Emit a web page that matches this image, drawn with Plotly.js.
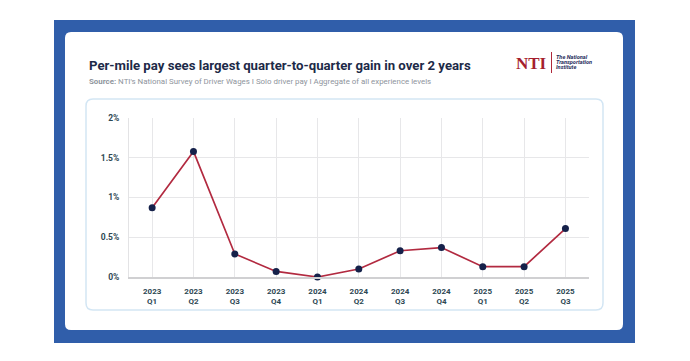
<!DOCTYPE html>
<html>
<head>
<meta charset="utf-8">
<script src="https://cdn.plot.ly/plotly-3.0.1.min.js"></script>
<style>
html,body{margin:0;padding:0;background:#ffffff;}
#chart{width:690px;height:361px;}
</style>
</head>
<body>
<div id="chart"></div>
<script>
// ---- data ----
const years = ["2023","2023","2023","2023","2024","2024","2024","2024","2025","2025","2025"];
const quarters = ["Q1","Q2","Q3","Q4","Q1","Q2","Q3","Q4","Q1","Q2","Q3"];
const categories = years.map((y, i) => y + "<br>" + quarters[i]);
const payChange = [0.87, 1.58, 0.29, 0.07, 0.00, 0.10, 0.33, 0.37, 0.13, 0.13, 0.61];
const yTickValues = [0, 0.5, 1, 1.5, 2];
const yTickLabels = ["0%", "0.5%", "1%", "1.5%", "2%"];

const titleText = "Per-mile pay sees largest quarter-to-quarter gain in over 2 years";
const sourceText = "<b>Source:</b> NTI's National Survey of Driver Wages I Solo driver pay I Aggregate of all experience levels";
const logoText = "NTI";
const logoLines = ["The National", "Transportation", "Institute"];

// ---- layout helpers (pixel -> paper) ----
const PL = 129, PR = 589, PT = 118, PB = 277;
const W = PR - PL, H = PB - PT;
const X = px => (px - PL) / W;
const Y = py => (PB - py) / H;

function roundRect(x0, y0, x1, y1, r) {
  const a = X(x0), b = X(x1), c = Y(y0), d = Y(y1);
  const rx = r / W, ry = r / H;
  return `M ${a + rx} ${c} L ${b - rx} ${c} Q ${b} ${c} ${b} ${c - ry} ` +
         `L ${b} ${d + ry} Q ${b} ${d} ${b - rx} ${d} L ${a + rx} ${d} ` +
         `Q ${a} ${d} ${a} ${d + ry} L ${a} ${c - ry} Q ${a} ${c} ${a + rx} ${c} Z`;
}

const shapes = [
  {type: "rect", xref: "paper", yref: "paper", layer: "below",
   x0: X(54), x1: X(635), y0: Y(343), y1: Y(20),
   fillcolor: "#305eaa", line: {width: 0}},
  {type: "path", xref: "paper", yref: "paper", layer: "below",
   path: roundRect(65, 32, 623, 330, 6), fillcolor: "#ffffff", line: {width: 0}},
  {type: "path", xref: "paper", yref: "paper", layer: "below",
   path: roundRect(86, 99, 603, 310, 7), fillcolor: "#ffffff",
   line: {color: "#d3e6f4", width: 1.5}},
  {type: "line", xref: "paper", yref: "paper",
   x0: X(551.5), x1: X(551.5), y0: Y(52), y1: Y(73),
   line: {color: "#b0283a", width: 1}}
];

const annotations = [
  {xref: "paper", yref: "paper", x: X(87), y: Y(65), xanchor: "left", yanchor: "middle",
   text: titleText, showarrow: false,
   font: {family: "Roboto, sans-serif", size: 13.2, color: "#1d2a48", weight: 700}},
  {xref: "paper", yref: "paper", x: X(87), y: Y(81.5), xanchor: "left", yanchor: "middle",
   text: sourceText, showarrow: false,
   font: {family: "Roboto, sans-serif", size: 7.9, color: "#8e949c"}},
  {xref: "paper", yref: "paper", x: X(549), y: Y(63.5), xanchor: "right", yanchor: "middle",
   text: "<b>" + logoText + "</b>", showarrow: false,
   font: {family: "Liberation Serif, serif", size: 17, color: "#a51f2f"}}
];
logoLines.forEach((t, i) => {
  annotations.push({xref: "paper", yref: "paper", x: X(553.5), y: Y(56.7 + 5 * i),
    xanchor: "left", yanchor: "middle", text: "<b><i>" + t + "</i></b>", showarrow: false,
    font: {family: "Roboto, sans-serif", size: 5.6, color: "#1f2d5c"}});
});

const trace = {
  type: "scatter", mode: "lines+markers",
  x: categories, y: payChange, cliponaxis: false,
  line: {color: "#b22a40", width: 1.7},
  marker: {color: "#15214a", size: 7},
  hoverinfo: "skip"
};

const layout = {
  width: 690, height: 361,
  margin: {l: PL, r: 690 - PR, t: PT, b: 361 - PB, pad: 0},
  paper_bgcolor: "#ffffff", plot_bgcolor: "rgba(0,0,0,0)",
  showlegend: false,
  xaxis: {
    type: "category", range: [-0.56, 10.57], fixedrange: true,
    showgrid: true, gridcolor: "#e7e7e9", gridwidth: 1,
    showline: true, linecolor: "#d0d0d2", linewidth: 2,
    ticks: "outside", ticklen: 5, tickcolor: "rgba(0,0,0,0)",
    tickfont: {family: "Roboto, sans-serif", size: 8, color: "#2d4753", weight: 700},
    zeroline: false
  },
  yaxis: {
    range: [0, 2], fixedrange: true,
    tickmode: "array", tickvals: yTickValues, ticktext: yTickLabels,
    showgrid: true, gridcolor: "#e7e7e9", gridwidth: 1,
    showline: true, linecolor: "#e3e3e5", linewidth: 1,
    ticks: "outside", ticklen: 7, tickcolor: "rgba(0,0,0,0)",
    tickfont: {family: "Roboto, sans-serif", size: 8.5, color: "#2d4753", weight: 700},
    zeroline: false
  },
  shapes: shapes,
  annotations: annotations
};

Plotly.newPlot("chart", [trace], layout, {displayModeBar: false, staticPlot: true});
</script>
</body>
</html>
